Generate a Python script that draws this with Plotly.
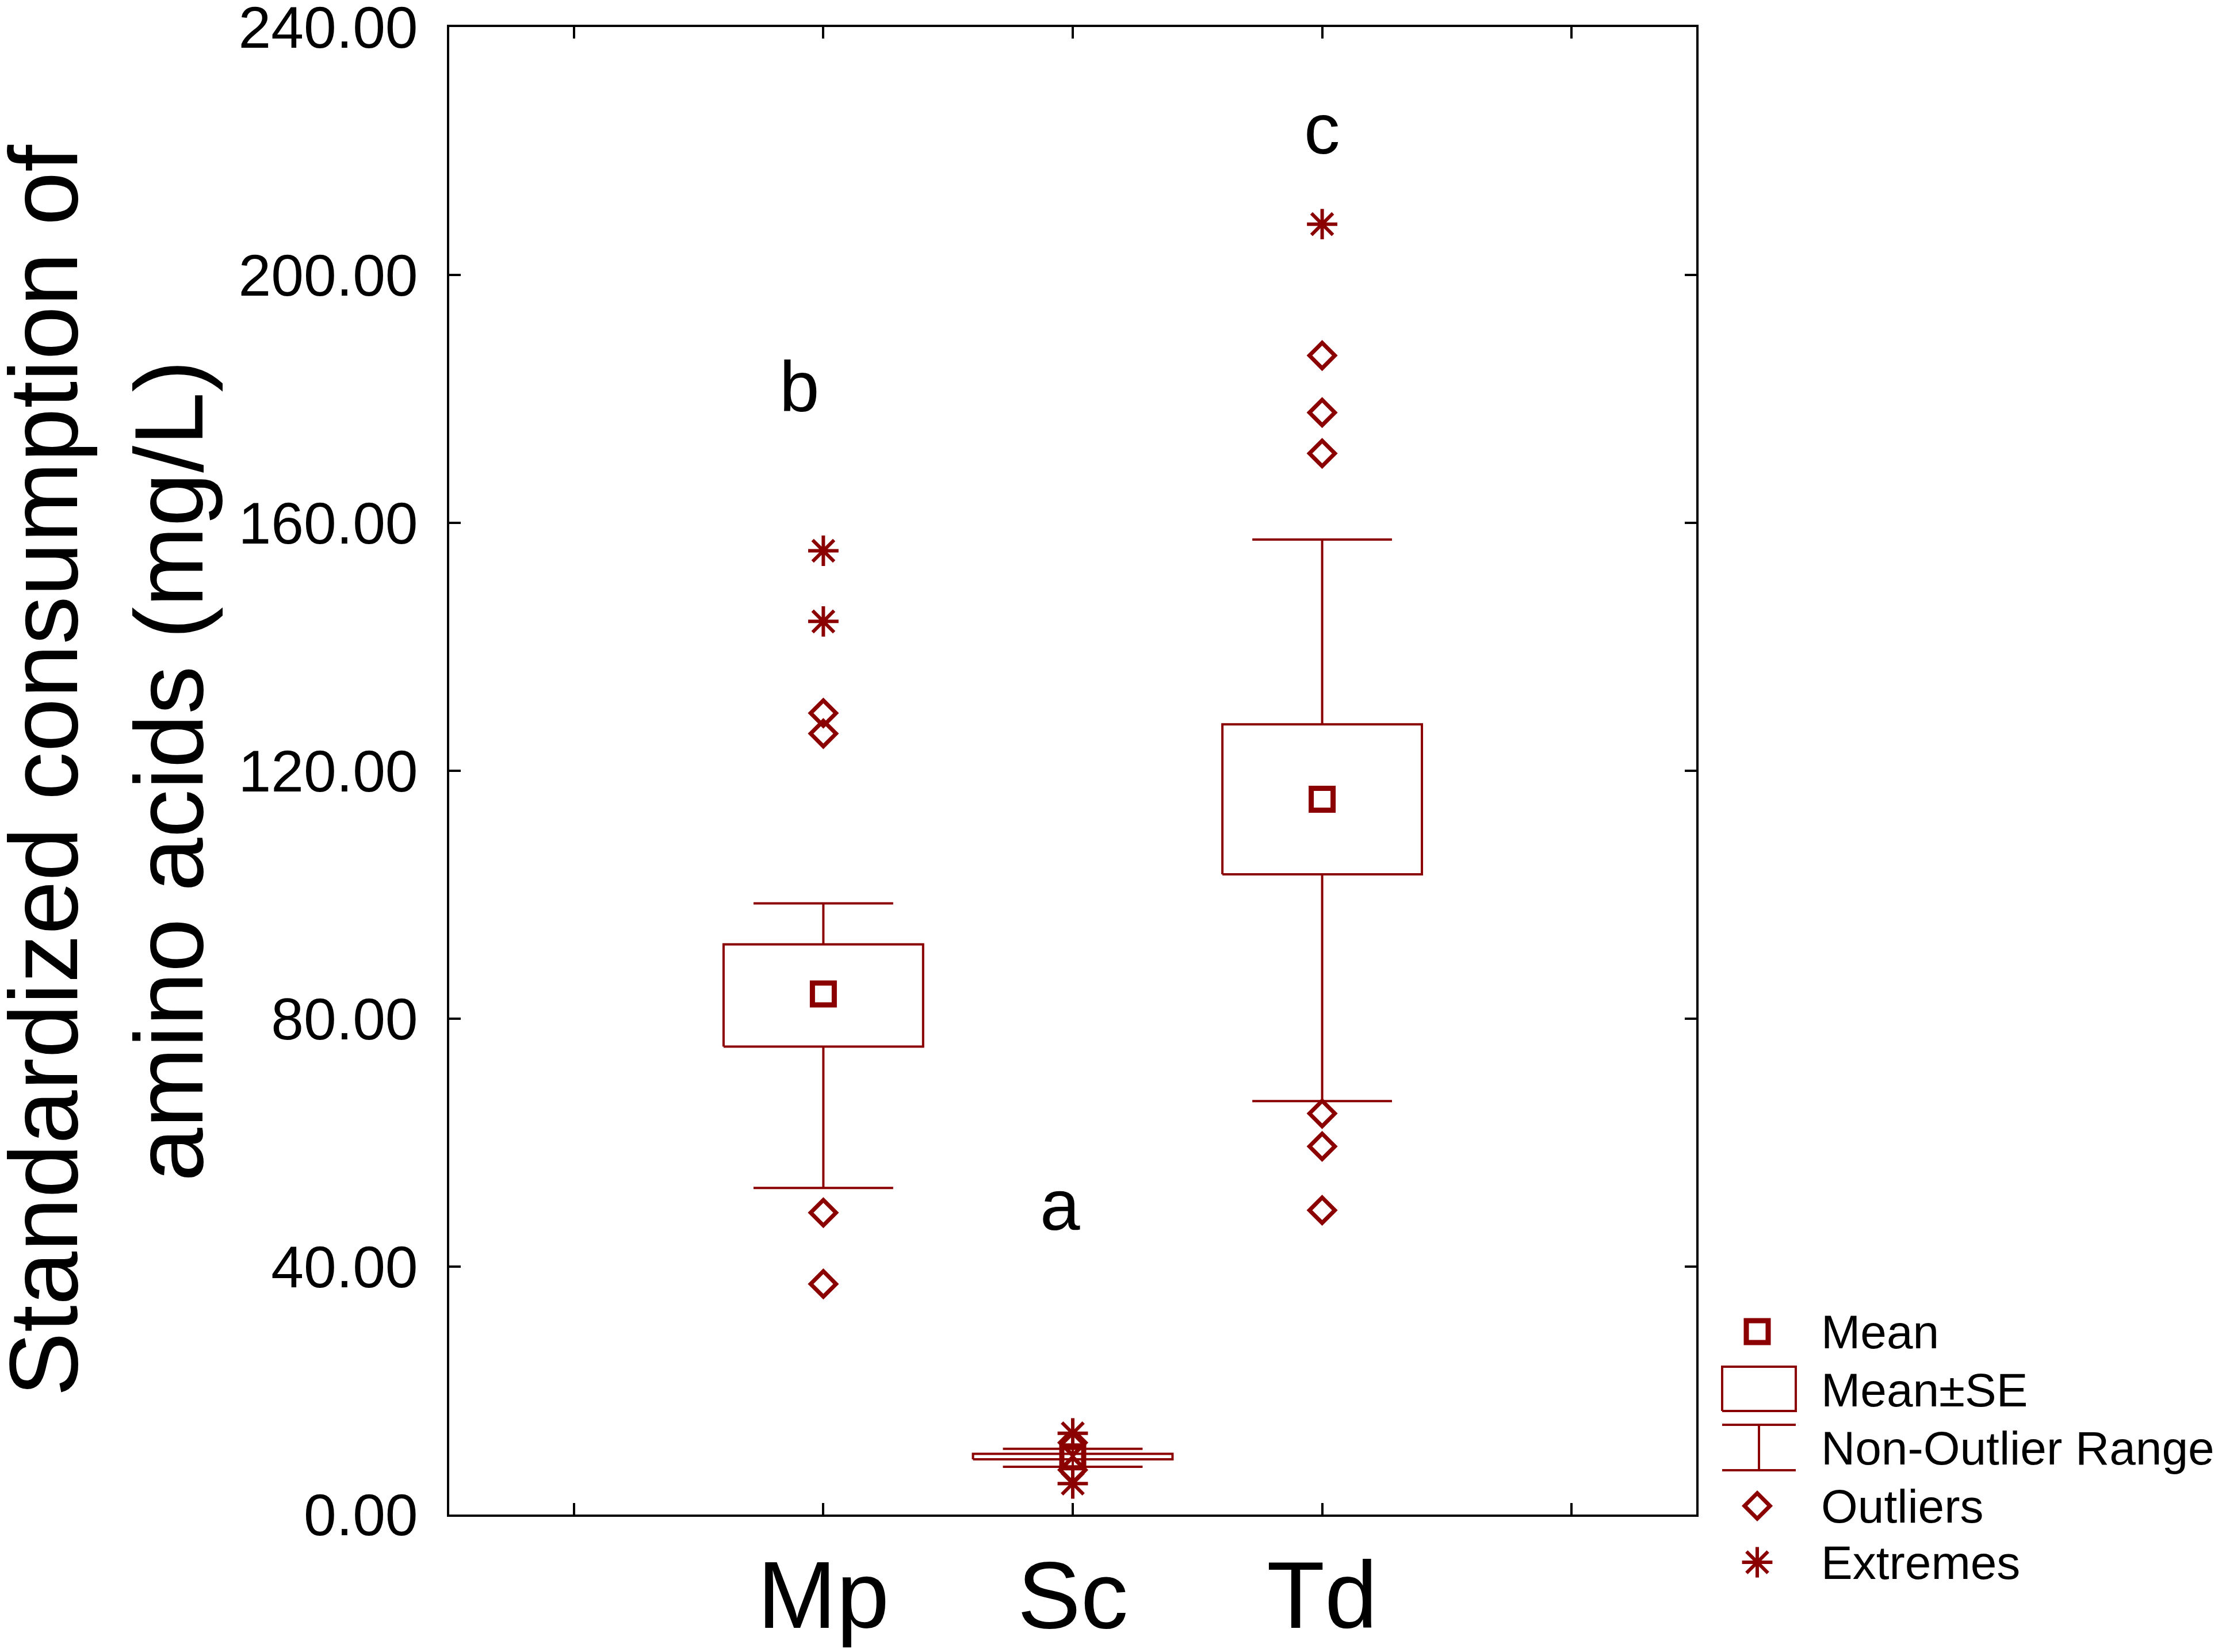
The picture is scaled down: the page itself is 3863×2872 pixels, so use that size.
import plotly.graph_objects as go

# values
groups = ["Mp", "Sc", "Td"]
means = [84.0, 9.3, 115.4]
se_low = [75.5, 8.9, 103.3]
se_high = [92.0, 9.8, 127.5]
range_low = [52.7, 7.7, 66.7]
range_high = [98.6, 10.6, 157.3]
outliers_mp = [48.7, 37.2, 126.0, 129.3]
outliers_sc = [11.6, 7.2]
outliers_td = [187.0, 177.8, 171.2, 64.7, 59.4, 49.1]
extremes_mp = [144.1, 155.5]
extremes_sc = [13.1, 5.0]
extremes_td = [208.2]
letters = ["b", "a", "c"]
y_ticks = [0, 40, 80, 120, 160, 200, 240]
legend_labels = ["Mean", "Mean±SE", "Non-Outlier Range", "Outliers", "Extremes"]

RED = "#8B0000"
FONT = "Liberation Sans, Arial, sans-serif"
PAGE_PAD = 8                          # default body margin of the html page
W, H = 3863 - PAGE_PAD, 2872 - PAGE_PAD
ML, MR, MT, MB = 781 - PAGE_PAD, 40, 47 - PAGE_PAD, 100
PLOT_W, PLOT_H = 2168, 2586           # size of the framed plot, in pixels
AREA_W = W - ML - MR
AREA_H = H - MT - MB
x_dom_end = PLOT_W / AREA_W
y_dom_start = (AREA_H - PLOT_H) / AREA_H

xpos = [1, 2, 3]
box_hw = 0.40
cap_hw = 0.28

fig = go.Figure()

# mean +- SE boxes
bx, by = [], []
for x, lo, hi in zip(xpos, se_low, se_high):
    bx += [x - box_hw, x + box_hw, x + box_hw, x - box_hw, x - box_hw, None]
    by += [lo, lo, hi, hi, lo, None]
fig.add_trace(go.Scatter(x=bx, y=by, mode="lines",
                         line=dict(color=RED, width=4), hoverinfo="skip"))

# whiskers (non-outlier range)
wx, wy = [], []
for x, lo, hi, slo, shi in zip(xpos, range_low, range_high, se_low, se_high):
    wx += [x, x, None, x, x, None]
    wy += [shi, hi, None, slo, lo, None]
    wx += [x - cap_hw, x + cap_hw, None, x - cap_hw, x + cap_hw, None]
    wy += [hi, hi, None, lo, lo, None]
fig.add_trace(go.Scatter(x=wx, y=wy, mode="lines",
                         line=dict(color=RED, width=4), hoverinfo="skip"))

# outliers and extremes
out_lists = [outliers_mp, outliers_sc, outliers_td]
ext_lists = [extremes_mp, extremes_sc, extremes_td]
ox = [x for x, vals in zip(xpos, out_lists) for _ in vals]
oy = [v for vals in out_lists for v in vals]
ex = [x for x, vals in zip(xpos, ext_lists) for _ in vals]
ey = [v for vals in ext_lists for v in vals]

outlier_marker = dict(symbol="diamond-open", size=34, color=RED, line=dict(color=RED, width=7))
extreme_marker = dict(symbol="asterisk-open", size=44, color=RED, line=dict(color=RED, width=6))
mean_marker = dict(symbol="square-open", size=38, color=RED, line=dict(color=RED, width=9))

fig.add_trace(go.Scatter(x=ox, y=oy, mode="markers", marker=outlier_marker))
fig.add_trace(go.Scatter(x=ex, y=ey, mode="markers", marker=extreme_marker))
fig.add_trace(go.Scatter(x=xpos, y=means, mode="markers", marker=mean_marker))

# group letters
letter_x = [0.905, 1.95, 3.0]
letter_y = [182, 50, 223.6]
for t, lx, ly in zip(letters, letter_x, letter_y):
    fig.add_annotation(x=lx, y=ly, text=t, showarrow=False,
                       font=dict(family=FONT, size=125, color="black"))

# hand-made legend on a hidden axis to the right (units: pixels above the x axis line)
row_y = [318, 217, 116, 15, -83]
sym_x = 106
text_x = 215
fig.add_trace(go.Scatter(x=[sym_x], y=[row_y[0]], mode="markers", marker=mean_marker,
                         xaxis="x2", yaxis="y2", cliponaxis=False))
fig.add_trace(go.Scatter(x=[45, 173, 173, 45, 45], y=[180, 180, 257, 257, 180], mode="lines",
                         line=dict(color=RED, width=4), xaxis="x2", yaxis="y2"))
fig.add_trace(go.Scatter(x=[45, 173, None, 109, 109, None, 45, 173], y=[156, 156, None, 156, 77, None, 77, 77],
                         mode="lines", line=dict(color=RED, width=4), xaxis="x2", yaxis="y2"))
fig.add_trace(go.Scatter(x=[sym_x], y=[row_y[3]], mode="markers", marker=outlier_marker,
                         xaxis="x2", yaxis="y2", cliponaxis=False))
fig.add_trace(go.Scatter(x=[sym_x], y=[row_y[4]], mode="markers", marker=extreme_marker,
                         xaxis="x2", yaxis="y2", cliponaxis=False))
for lab, ry in zip(legend_labels, row_y):
    fig.add_annotation(x=text_x, y=ry, xref="x2", yref="y2", text=lab, showarrow=False,
                       xanchor="left", yanchor="middle",
                       font=dict(family=FONT, size=82, color="black"))

# y axis title
fig.add_annotation(xref="paper", yref="paper", x=(185 - PAGE_PAD - ML) / AREA_W,
                   y=y_dom_start + (1 - y_dom_start) / 2,
                   text="Standardized consumption of<br>amino acids (mg/L)",
                   showarrow=False, textangle=-90, xanchor="center", yanchor="middle",
                   font=dict(family=FONT, size=168, color="black"))

fig.update_layout(
    width=W, height=H,
    margin=dict(l=ML, r=MR, t=MT, b=MB, autoexpand=False),
    paper_bgcolor="white", plot_bgcolor="white",
    showlegend=False,
    font=dict(family=FONT, color="black"),
    xaxis=dict(domain=[0, x_dom_end], range=[-0.5, 4.5], tickvals=[0, 1, 2, 3, 4],
               ticktext=["", "Mp", "Sc", "Td", ""], ticks="inside", ticklen=20, tickwidth=4,
               tickcolor="black", showline=True, linecolor="black", linewidth=4, mirror="ticks",
               showgrid=False, zeroline=False, ticklabelstandoff=-5, automargin=False,
               tickfont=dict(family=FONT, size=165, color="black")),
    yaxis=dict(domain=[y_dom_start, 1], range=[0, 240], tickvals=y_ticks, tickformat=".2f",
               ticks="inside", ticklen=20, tickwidth=4, tickcolor="black", showline=True,
               linecolor="black", linewidth=4, mirror="ticks", showgrid=False, zeroline=False,
               ticklabelstandoff=30, automargin=False, ticklabeloverflow="allow",
               tickfont=dict(family=FONT, size=102, color="black")),
    xaxis2=dict(domain=[x_dom_end, 1], range=[0, AREA_W - PLOT_W], visible=False, anchor="y2"),
    yaxis2=dict(domain=[0, 1], range=[-(AREA_H - PLOT_H), PLOT_H], visible=False, anchor="x2"),
)

fig.write_html("out.html")
